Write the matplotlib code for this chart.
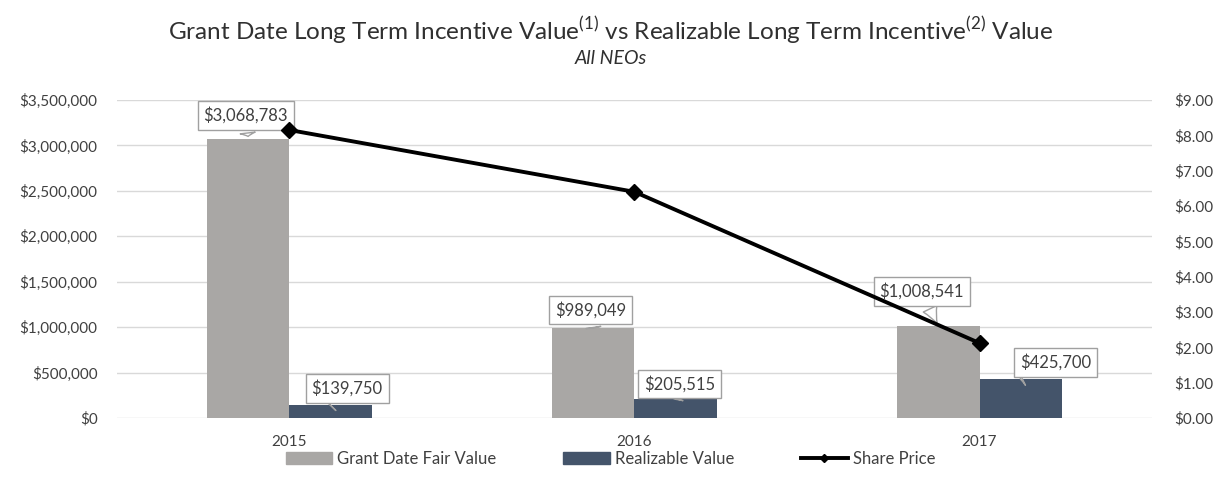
import numpy as np
import matplotlib
matplotlib.use('Agg')
import matplotlib.pyplot as plt
from matplotlib.patches import Patch
from matplotlib.lines import Line2D
import matplotlib.ticker as mtick

plt.rcParams['font.family'] = ['Lato', 'DejaVu Sans']
plt.rcParams['mathtext.fontset'] = 'custom'
plt.rcParams['mathtext.rm'] = 'Lato'

years = ['2015', '2016', '2017']
grant_value = [3068783, 989049, 1008541]
realizable_value = [139750, 205515, 425700]
share_price = [8.15, 6.40, 2.12]

grey = '#A9A7A5'
navy = '#44546A'
text_col = '#404040'

fig = plt.figure(figsize=(12.21, 4.95), dpi=100)
ax = fig.add_axes([0.0958, 0.1556, 0.8477, 0.6424])
ax2 = ax.twinx()

x = np.arange(len(years))
w = 0.238
ax.bar(x - w / 2, grant_value, w, color=grey, zorder=2)
ax.bar(x + w / 2, realizable_value, w, color=navy, zorder=2)

ax2.plot(x, share_price, color='black', lw=2.8, marker='D', ms=8, zorder=5)

ax.set_xlim(-0.5, 2.5)
ax.set_ylim(0, 3500000)
ax2.set_ylim(0, 9)
ax.set_yticks(np.arange(0, 3500001, 500000))
ax2.set_yticks(np.arange(0, 10, 1))
ax.yaxis.set_major_formatter(mtick.FuncFormatter(lambda v, p: '${:,.0f}'.format(v)))
ax2.yaxis.set_major_formatter(mtick.FuncFormatter(lambda v, p: '${:.2f}'.format(v)))
ax.set_xticks(x)
ax.set_xticklabels(years)

for a in (ax, ax2):
    for s in a.spines.values():
        s.set_visible(False)
    a.tick_params(length=0, labelsize=11, labelcolor=text_col)
ax.tick_params(axis='y', pad=14)
ax2.tick_params(axis='y', pad=16)
ax.tick_params(axis='x', pad=12)
ax.yaxis.grid(True, color='#D9D9D9', lw=1)
ax.set_axisbelow(True)

# data label callouts
def callout(xv, yv, dx, dy, val):
    ax.annotate('${:,}'.format(val), xy=(xv, yv), xytext=(dx, dy),
                textcoords='offset points', ha='center', va='bottom',
                fontsize=12, color=text_col, zorder=10,
                bbox=dict(boxstyle='square,pad=0.35', fc='white', ec='#A0A0A0', lw=1),
                arrowprops=dict(arrowstyle='wedge,tail_width=0.9,shrink_factor=0.4',
                                fc='white', ec='#A0A0A0', lw=1))

grant_off = [(-2, 11), (-2, 7), (-12, 19)]
real_off = [(12, 6), (3, 5), (25, 6)]
for i in range(len(years)):
    callout(x[i] - w / 2, grant_value[i], grant_off[i][0], grant_off[i][1], grant_value[i])
    callout(x[i] + w / 2, realizable_value[i], real_off[i][0], real_off[i][1], realizable_value[i])

fig.text(0.5, 0.94, 'Grant Date Long Term Incentive Value$^{\\mathrm{(1)}}$ vs Realizable Long Term Incentive$^{\\mathrm{(2)}}$ Value',
         ha='center', va='center', fontsize=17.5, color='#303030')
fig.text(0.5, 0.882, 'All NEOs', ha='center', va='center', fontsize=14,
         style='italic', color='#303030')

handles = [Patch(color=grey, label='Grant Date Fair Value'),
           Patch(color=navy, label='Realizable Value'),
           Line2D([0], [0], color='black', lw=2.8, marker='D', ms=4, label='Share Price')]
fig.legend(handles=handles, loc='center', bbox_to_anchor=(0.5, 0.073), ncol=3,
           frameon=False, fontsize=12, handlelength=2.8, handleheight=0.8,
           columnspacing=4.0, handletextpad=0.3, labelcolor=text_col)

fig.savefig('out.png', dpi=100)
